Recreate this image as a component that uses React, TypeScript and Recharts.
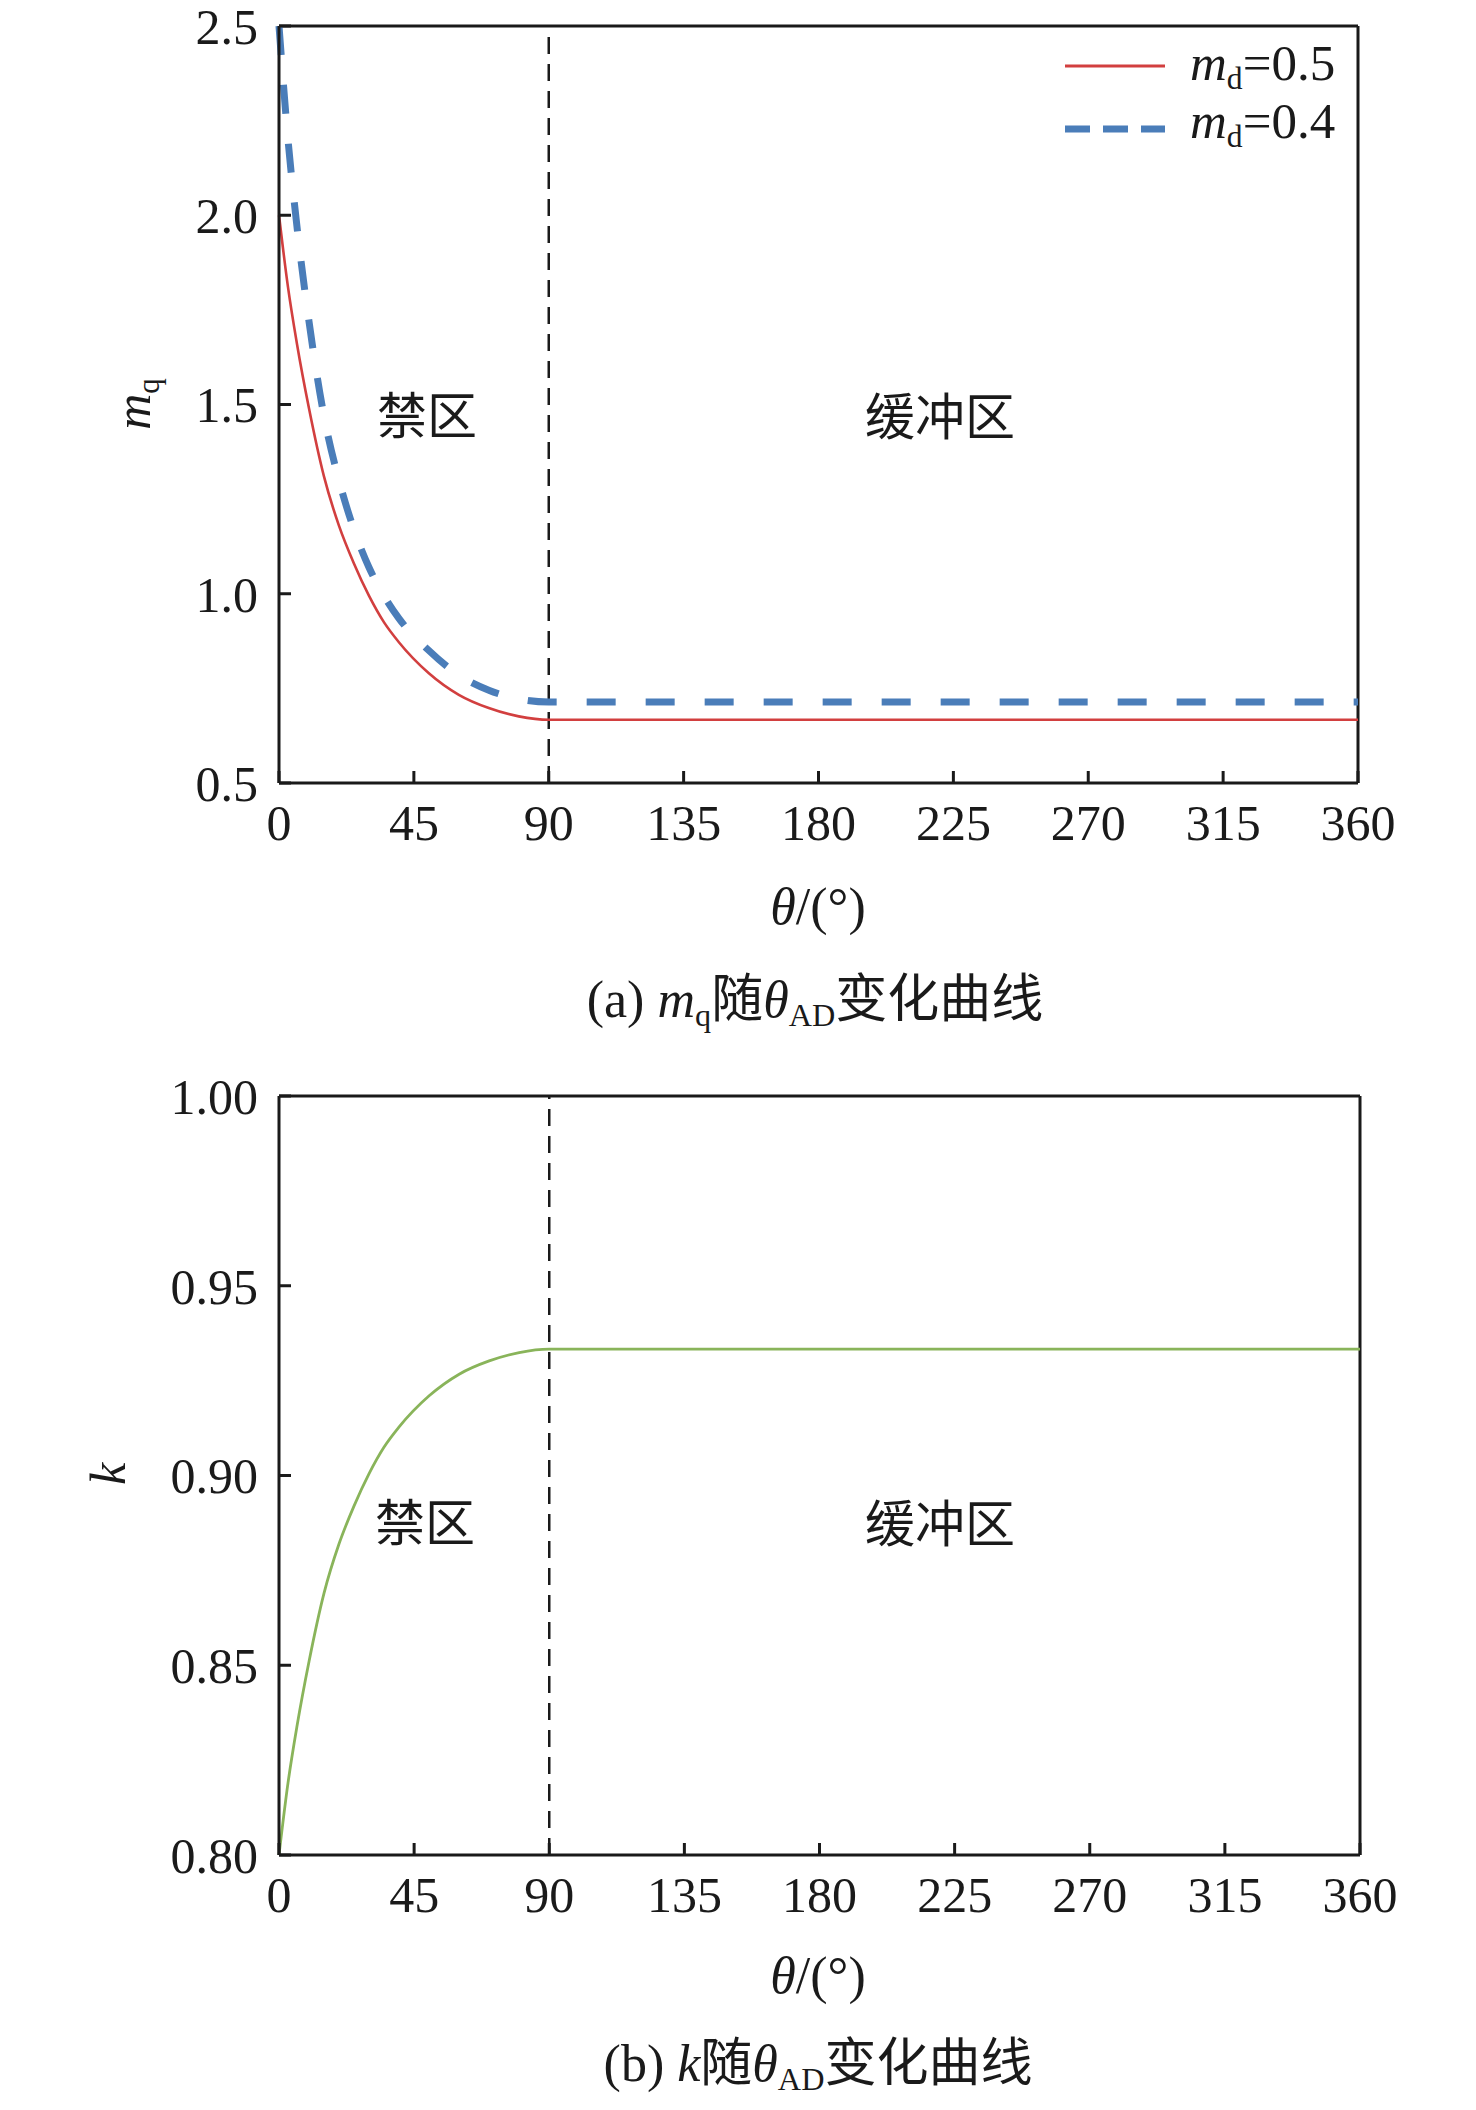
import type { ReactNode } from 'react';
import { Line, LineChart, ReferenceLine, XAxis, YAxis } from 'recharts';

// θ sample points (deg); flat beyond 90°
const THETA = [0, 3, 6, 10, 15, 20, 25, 30, 35, 40, 50, 60, 70, 80, 90, 360];
// m_q for m_d = 0.5 (red solid)
const MQ_MD05 = [2.0, 1.81, 1.66, 1.49, 1.31, 1.18, 1.08, 0.995, 0.925, 0.872, 0.79, 0.733, 0.698, 0.676, 0.667, 0.667];
// m_q for m_d = 0.4 (blue dashed)
const MQ_MD04 = [2.5, 2.2, 1.97, 1.72, 1.47, 1.3, 1.17, 1.07, 0.995, 0.935, 0.85, 0.785, 0.745, 0.722, 0.714, 0.714];
// k (green)
const K_VALUES = [0.8, 0.819, 0.834, 0.851, 0.869, 0.882, 0.892, 0.9005, 0.9075, 0.9128, 0.921, 0.9267, 0.9302, 0.9324, 0.9333, 0.9333];

const X_TICKS = [0, 45, 90, 135, 180, 225, 270, 315, 360];
const MQ_TICKS = [0.5, 1.0, 1.5, 2.0, 2.5];
const K_TICKS = [0.8, 0.85, 0.9, 0.95, 1.0];
const ZONE_EDGE = 90;

const mqData = THETA.map((t, i) => ({ theta: t, md05: MQ_MD05[i], md04: MQ_MD04[i] }));
const kData = THETA.map((t, i) => ({ theta: t, k: K_VALUES[i] }));

const INK = '#1a1a1a';
const RED = '#d23f3f';
const BLUE = '#4a7db9';
const GREEN = '#89b45a';
const SERIF = '"Liberation Serif", "Times New Roman", serif';
const MIXED = '"Liberation Serif", "Noto Sans CJK SC", serif';
const CJK = '"Noto Sans CJK SC", sans-serif';

const tickStyle = { fill: INK, fontSize: 50, fontFamily: SERIF };
const axisLine = { stroke: INK, strokeWidth: 3 };
const tickLine = { stroke: INK, strokeWidth: 3 };

function Note({ x, y, size = 50, rotate = 0, font = MIXED, children }: {
  x: number; y: number; size?: number; rotate?: number; font?: string; children: ReactNode;
}) {
  return (
    <div
      style={{
        position: 'absolute',
        left: x,
        top: y,
        transform: `translate(-50%, -50%) rotate(${rotate}deg)`,
        fontSize: size,
        fontFamily: font,
        lineHeight: 1,
        whiteSpace: 'nowrap',
        color: INK,
      }}
    >
      {children}
    </div>
  );
}

const Sub = ({ children }: { children: ReactNode }) => (
  <span style={{ fontSize: '0.62em', position: 'relative', top: '0.28em', fontStyle: 'normal' }}>{children}</span>
);

function LegendRow({ lineY, textY, color, width, dash, label }: {
  lineY: number; textY: number; color: string; width: number; dash?: string; label: ReactNode;
}) {
  return (
    <>
      <svg style={{ position: 'absolute', left: 1065, top: lineY - 10 }} width={102} height={20}>
        <line x1={0} y1={10} x2={100} y2={10} stroke={color} strokeWidth={width} strokeDasharray={dash} />
      </svg>
      <div
        style={{
          position: 'absolute',
          left: 1190,
          top: textY,
          transform: 'translateY(-50%)',
          fontSize: 51,
          fontFamily: SERIF,
          lineHeight: 1,
          whiteSpace: 'nowrap',
          color: INK,
        }}
      >
        {label}
      </div>
    </>
  );
}

function xAxis() {
  return (
    <XAxis
      dataKey="theta"
      type="number"
      domain={[0, 360]}
      ticks={X_TICKS}
      interval={0}
      tickSize={-12}
      tickMargin={33}
      tick={tickStyle}
      tickLine={tickLine}
      axisLine={axisLine}
      height={60}
    />
  );
}

export default function App() {
  return (
    <div style={{ position: 'absolute', left: 0, top: 0, width: 1476, height: 2110, background: '#fff', overflow: 'hidden' }}>
      {/* (a) m_q vs θ */}
      <div style={{ position: 'absolute', left: 0, top: 0 }}>
        <LineChart width={1476} height={1050} data={mqData} margin={{ top: 26, right: 118, bottom: 207, left: 199 }}>
          {xAxis()}
          <YAxis
            type="number"
            domain={[0.5, 2.5]}
            ticks={MQ_TICKS}
            interval={0}
            tickFormatter={(v: number) => v.toFixed(1)}
            tickSize={-12}
            tickMargin={33}
            tick={tickStyle}
            tickLine={tickLine}
            axisLine={axisLine}
            width={80}
          />
          <ReferenceLine y={2.5} stroke={INK} strokeWidth={3} />
          <ReferenceLine x={360} stroke={INK} strokeWidth={3} />
          <ReferenceLine x={ZONE_EDGE} stroke={INK} strokeWidth={2.5} strokeDasharray="17 10" />
          <Line type="monotone" dataKey="md05" stroke={RED} strokeWidth={2.6} dot={false} isAnimationActive={false} />
          <Line
            type="monotone"
            dataKey="md04"
            stroke={BLUE}
            strokeWidth={7}
            strokeDasharray="29 30"
            dot={false}
            isAnimationActive={false}
          />
        </LineChart>
      </div>
      <LegendRow lineY={66} textY={63} color={RED} width={3} label={<><i>m</i><Sub>d</Sub>=0.5</>} />
      <LegendRow lineY={129} textY={121} color={BLUE} width={7} dash="25 13" label={<><i>m</i><Sub>d</Sub>=0.4</>} />
      <Note x={133} y={404} size={50} rotate={-90} font={SERIF}>
        <i>m</i><Sub>q</Sub>
      </Note>
      <Note x={427} y={412} size={50} font={CJK}>禁区</Note>
      <Note x={940} y={413} size={50} font={CJK}>缓冲区</Note>
      <Note x={818} y={907} size={52}>
        <i>θ</i>/(°)
      </Note>
      <Note x={815} y={1000} size={52}>
        (a) <i>m</i><Sub>q</Sub>随<i>θ</i><Sub>AD</Sub>变化曲线
      </Note>

      {/* (b) k vs θ */}
      <div style={{ position: 'absolute', left: 0, top: 1050 }}>
        <LineChart width={1476} height={1060} data={kData} margin={{ top: 46, right: 116, bottom: 195, left: 199 }}>
          {xAxis()}
          <YAxis
            type="number"
            domain={[0.8, 1.0]}
            ticks={K_TICKS}
            interval={0}
            tickFormatter={(v: number) => v.toFixed(2)}
            tickSize={-12}
            tickMargin={33}
            tick={tickStyle}
            tickLine={tickLine}
            axisLine={axisLine}
            width={80}
          />
          <ReferenceLine y={1.0} stroke={INK} strokeWidth={3} />
          <ReferenceLine x={360} stroke={INK} strokeWidth={3} />
          <ReferenceLine x={ZONE_EDGE} stroke={INK} strokeWidth={2.5} strokeDasharray="17 10" />
          <Line type="monotone" dataKey="k" stroke={GREEN} strokeWidth={2.8} dot={false} isAnimationActive={false} />
        </LineChart>
      </div>
      <Note x={108} y={1474} size={50} rotate={-90} font={SERIF}>
        <i>k</i>
      </Note>
      <Note x={425} y={1519} size={50} font={CJK}>禁区</Note>
      <Note x={940} y={1520} size={50} font={CJK}>缓冲区</Note>
      <Note x={818} y={1976} size={52}>
        <i>θ</i>/(°)
      </Note>
      <Note x={818} y={2064} size={52}>
        (b) <i>k</i>随<i>θ</i><Sub>AD</Sub>变化曲线
      </Note>
    </div>
  );
}
